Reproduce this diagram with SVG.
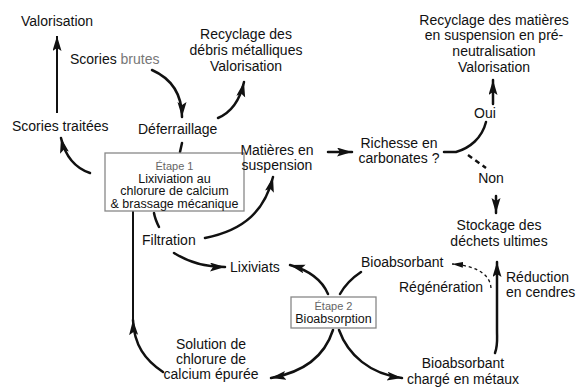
<svg xmlns="http://www.w3.org/2000/svg" width="576" height="387" viewBox="0 0 576 387">
<defs>
<marker id="ah" markerUnits="userSpaceOnUse" markerWidth="16" markerHeight="10" refX="15" refY="4.5" orient="auto">
<path d="M0,0 L15,4.5 L0,9 L3,4.5 z" fill="#111"/>
</marker>
<marker id="ahs" markerUnits="userSpaceOnUse" markerWidth="12" markerHeight="8" refX="11" refY="3" orient="auto">
<path d="M0,0 L11,3 L0,6 z" fill="#111"/>
</marker>
</defs>
<style>
text{font-family:"Liberation Sans",Arial,sans-serif;font-size:14px;fill:#111}
.c{text-anchor:middle}
.b{font-size:12.5px}
.s{font-size:11px;fill:#666}
.g{fill:#777}
.box{fill:#fff;stroke:#888;stroke-width:1.3}
.ln{fill:none;stroke:#111;stroke-width:2.5;stroke-linecap:round}
.th{fill:none;stroke:#111;stroke-width:2}
.ds{fill:none;stroke:#111;stroke-width:2.5;stroke-dasharray:5 4}
.ds2{fill:none;stroke:#111;stroke-width:1.3;stroke-dasharray:3 3}
</style>
<rect width="576" height="387" fill="#fff"/>
<g id="connectors">
<path class="th" d="M57,113 L57,36" marker-end="url(#ah)"/>
<path class="ln" d="M152,70 C170,78 182,92 182,117" marker-end="url(#ah)"/>
<path class="ln" d="M218,118 C232,112 240,100 244,82" marker-end="url(#ah)"/>
<path class="ln" d="M90,173 C75,168 65,155 61,138" marker-end="url(#ah)"/>
<path class="ln" d="M182,143 L180,152"/>
<path class="ln" d="M154,213 C155,219 157,223 159,227"/>
<path class="ln" d="M205,238 C245,230 265,210 273,177" marker-end="url(#ah)"/>
<path class="ln" d="M328,152 L352,152" marker-end="url(#ah)"/>
<path class="ln" d="M444,152 L456,152 C470,148 482,138 486,122"/>
<path class="ln" d="M493,104 L493,80" marker-end="url(#ah)"/>
<path class="ds" d="M468,155 L486,168"/>
<path class="ln" d="M496,196 L496,213" marker-end="url(#ah)"/>
<path class="ln" d="M174,253 C185,260 200,267 225,267" marker-end="url(#ah)"/>
<path class="ln" d="M163,372 C145,360 134,345 133,320" marker-end="url(#ah)"/>
<path class="th" d="M133,322 L133,211"/>
<path class="ln" d="M328,294 C322,280 308,270 290,265" marker-end="url(#ah)"/>
<path class="ln" d="M361,272 C352,278 345,285 340,294"/>
<path class="ln" d="M333,330 C325,355 305,372 271,378" marker-end="url(#ah)"/>
<path class="ln" d="M339,330 C348,355 370,374 402,378" marker-end="url(#ah)"/>
<path class="ln" d="M495,353 C498,345 497,340 497,330 L497,262" marker-end="url(#ah)"/>
<path class="ds2" d="M491,288 C490,275 478,266 452,264" marker-end="url(#ahs)"/>
</g>
<g id="valorisation1"><text x="21" y="26">Valorisation</text></g>
<g id="scories-brutes"><text x="70" y="64">Scories <tspan class="g">brutes</tspan></text></g>
<g id="recyclage-debris" class="c">
<text x="246" y="39">Recyclage des</text>
<text x="246" y="55">débris métalliques</text>
<text x="246" y="71">Valorisation</text>
</g>
<g id="scories-traitees"><text x="12" y="131">Scories traitées</text></g>
<g id="deferraillage"><text x="138" y="134">Déferraillage</text></g>
<g id="etape1">
<rect class="box" x="105" y="153" width="139" height="58"/>
<text class="c s" x="174.5" y="170">Étape 1</text>
<text class="c b" x="174.5" y="182.5">Lixiviation au</text>
<text class="c b" x="174.5" y="195">chlorure de calcium</text>
<text class="c b" x="174.5" y="207.5">&amp; brassage mécanique</text>
</g>
<g id="matieres" class="c">
<text x="277" y="155">Matières en</text>
<text x="277" y="170">suspension</text>
</g>
<g id="richesse" class="c">
<text x="399" y="148">Richesse en</text>
<text x="399" y="163">carbonates ?</text>
</g>
<g id="recyclage-matieres" class="c">
<text x="494" y="25">Recyclage des matières</text>
<text x="494" y="40">en suspension en pré-</text>
<text x="494" y="56">neutralisation</text>
<text x="494" y="72">Valorisation</text>
</g>
<g id="oui"><text class="c" x="485" y="118">Oui</text></g>
<g id="non"><text class="c" x="491" y="183">Non</text></g>
<g id="stockage" class="c">
<text x="499" y="230">Stockage des</text>
<text x="499" y="246">déchets ultimes</text>
</g>
<g id="filtration"><text x="142" y="245">Filtration</text></g>
<g id="lixiviats"><text x="230" y="272">Lixiviats</text></g>
<g id="bioabsorbant"><text x="361" y="267">Bioabsorbant</text></g>
<g id="regeneration"><text x="399" y="292">Régénération</text></g>
<g id="reduction">
<text x="506" y="282">Réduction</text>
<text x="506" y="297">en cendres</text>
</g>
<g id="etape2">
<rect class="box" x="291" y="297" width="85" height="31"/>
<text class="c s" x="333.5" y="310">Étape 2</text>
<text class="c b" x="333.5" y="323">Bioabsorption</text>
</g>
<g id="solution" class="c">
<text x="211" y="349">Solution de</text>
<text x="211" y="364">chlorure de</text>
<text x="211" y="379">calcium épurée</text>
</g>
<g id="bioabsorbant-charge" class="c">
<text x="463" y="368">Bioabsorbant</text>
<text x="463" y="384">chargé en métaux</text>
</g>
</svg>
